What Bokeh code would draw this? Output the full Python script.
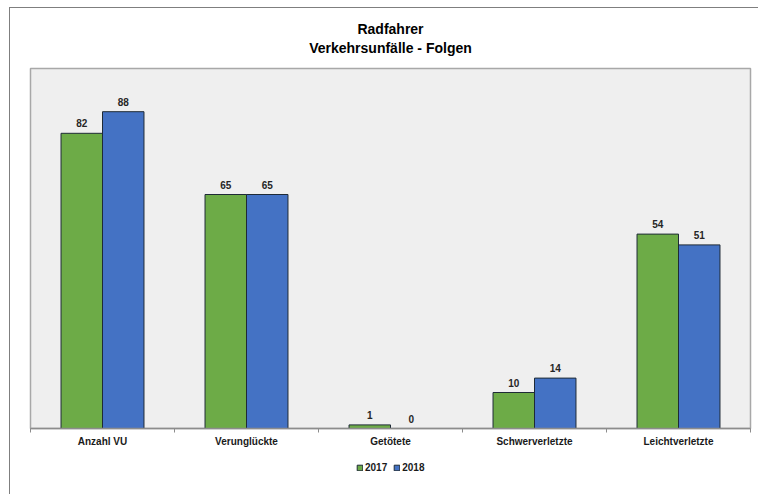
import numpy as np
from bokeh.plotting import figure
from bokeh.layouts import column
from bokeh.core.properties import value
from bokeh.models import (ColumnDataSource, FixedTicker, Legend, LegendItem,
                          LabelSet, Title, Range1d)
from bokeh.embed import file_html
from bokeh.resources import INLINE

categories = ["Anzahl VU", "Verunglückte", "Getötete", "Schwerverletzte", "Leichtverletzte"]
values_2017 = [82, 65, 1, 10, 54]
values_2018 = [88, 65, 0, 14, 51]
series_names = ["2017", "2018"]
title_lines = ["Radfahrer", "Verkehrsunfälle - Folgen"]

GREEN = "#6dab47"
BLUE = "#4472c4"
EDGE = "#1e2a36"
FONT = "Liberation Sans"

n = len(categories)
idx = np.arange(n)
bw = 0.288

p = figure(width=748, height=447, output_backend="svg", toolbar_location=None,
           x_range=Range1d(-0.5, n - 0.5), y_range=Range1d(0, 100),
           y_axis_location=None, title=None,
           min_border_left=20, min_border_right=8, min_border_top=60, min_border_bottom=27)
p.background_fill_color = "#efefef"
p.border_fill_color = "white"
p.outline_line_color = "#a8a8a8"
p.outline_line_width = 1.5
p.xgrid.visible = False
p.ygrid.visible = False

src17 = ColumnDataSource(dict(x=idx - bw / 2, y=values_2017, t=[str(v) for v in values_2017]))
src18 = ColumnDataSource(dict(x=idx + bw / 2, y=values_2018, t=[str(v) for v in values_2018]))

r1 = p.vbar(x="x", top="y", width=bw, bottom=0, source=src17,
            fill_color=GREEN, line_color=EDGE, line_width=1)
r2 = p.vbar(x="x", top="y", width=bw, bottom=0, source=src18,
            fill_color=BLUE, line_color=EDGE, line_width=1)

for s in (src17, src18):
    p.add_layout(LabelSet(x="x", y="y", text="t", source=s, y_offset=6,
                          text_align="center", text_baseline="bottom",
                          text_font=value(FONT), text_font_style="bold",
                          text_font_size="10px", text_color="#262626"))

ax = p.xaxis[0]
ax.ticker = FixedTicker(ticks=list(range(n)), minor_ticks=[i - 0.5 for i in range(n + 1)])
ax.major_label_overrides = {i: c for i, c in enumerate(categories)}
ax.major_tick_line_color = None
ax.major_tick_in = 0
ax.major_tick_out = 0
ax.minor_tick_in = 0
ax.minor_tick_out = 4
ax.minor_tick_line_color = "#8c8c8c"
ax.axis_line_color = "#8c8c8c"
ax.axis_line_width = 1.5
ax.major_label_standoff = 3
ax.major_label_text_font = FONT
ax.major_label_text_font_style = "bold"
ax.major_label_text_font_size = "10px"
ax.major_label_text_color = "#1a1a1a"

# titles: first added sits nearest the frame (a tiny spacer first)
p.add_layout(Title(text=" ", align="center", text_font_size="1px", standoff=10), "above")
p.add_layout(Title(text=title_lines[1], align="center", text_font=FONT,
                   text_font_style="bold", text_font_size="14px",
                   text_color="#000000", standoff=0), "above")
p.add_layout(Title(text=title_lines[0], align="center", text_font=FONT,
                   text_font_style="bold", text_font_size="14px",
                   text_color="#000000", standoff=2), "above")

# legend strip below
lg = figure(width=748, height=39, output_backend="svg", toolbar_location=None,
            x_range=p.x_range, y_range=Range1d(1000, 1001),
            x_axis_location=None, y_axis_location=None,
            min_border_left=0, min_border_right=0, min_border_top=0, min_border_bottom=0)
lg.outline_line_color = None
lg.background_fill_color = "white"
lg.xgrid.visible = False
lg.ygrid.visible = False
l1 = lg.vbar(x="x", top="y", width=bw, bottom=0, source=src17,
             fill_color=GREEN, line_color=EDGE, line_width=1)
l2 = lg.vbar(x="x", top="y", width=bw, bottom=0, source=src18,
             fill_color=BLUE, line_color=EDGE, line_width=1)
legend = Legend(items=[LegendItem(label=series_names[0], renderers=[l1]),
                       LegendItem(label=series_names[1], renderers=[l2])],
                orientation="horizontal", location=(326, 21))
legend.glyph_width = 7
legend.glyph_height = 7
legend.label_standoff = 2
legend.spacing = 6
legend.padding = 0
legend.margin = 0
legend.border_line_color = None
legend.background_fill_alpha = 0
legend.label_text_font = FONT
legend.label_text_font_style = "bold"
legend.label_text_font_size = "10px"
legend.label_height = 10
legend.label_text_color = "#1a1a1a"
lg.add_layout(legend, "center")

layout = column(p, lg, spacing=0)
layout.styles = {"margin-left": "9px", "margin-top": "7px",
                 "border-left": "1px solid #7f7f7f", "border-top": "1px solid #7f7f7f"}

open("out.html", "w").write(file_html(layout, INLINE))
